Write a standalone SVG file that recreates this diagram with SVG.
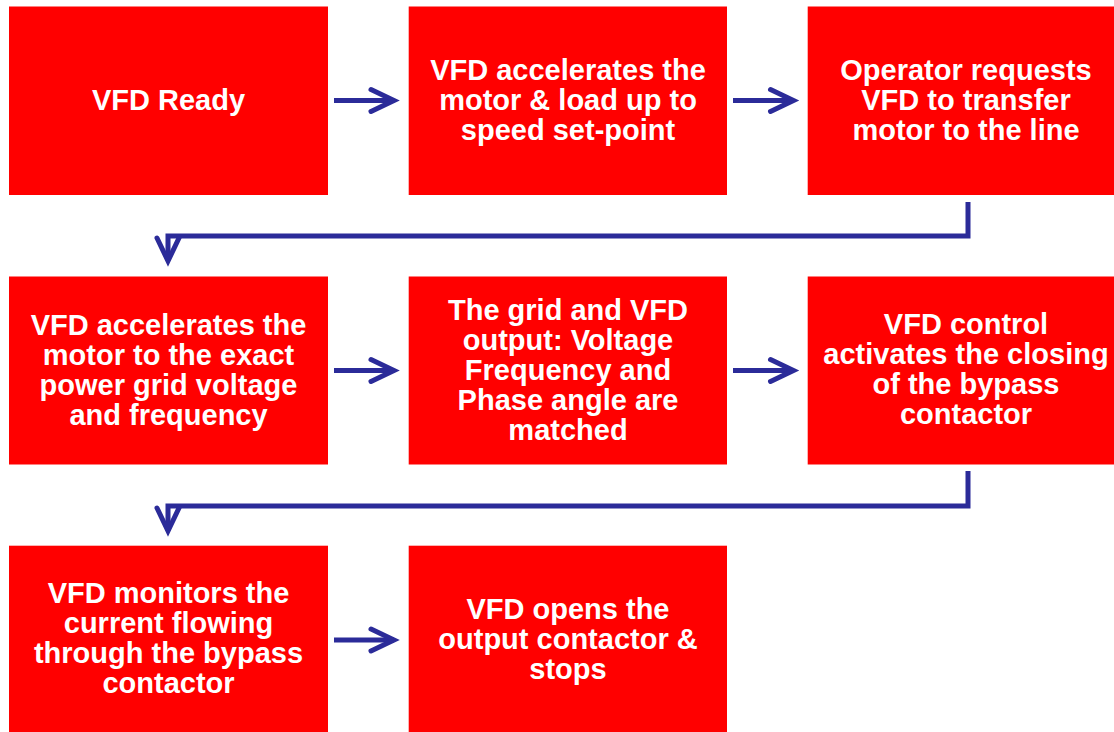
<svg xmlns="http://www.w3.org/2000/svg" width="1114" height="732" viewBox="0 0 1114 732">
<defs>
<style>
.box{fill:#FF0000;}
.t{fill:#FFFFFF;font-family:"Liberation Sans",Arial,sans-serif;font-weight:bold;font-size:29px;text-anchor:middle;}
.c{fill:none;stroke:#2B2B99;stroke-width:5;stroke-linejoin:miter;}
</style>
<marker id="ah" markerUnits="userSpaceOnUse" markerWidth="40" markerHeight="40" viewBox="-30 -20 40 40" refX="0" refY="0" orient="auto" overflow="visible">
<path d="M-23,-11 L0,0 L-23,11" fill="none" stroke="#2B2B99" stroke-width="5" stroke-linecap="round" stroke-linejoin="miter"/>
</marker>
</defs>
<rect width="1114" height="732" fill="#FFFFFF"/>
<g id="n1"><rect class="box" x="9" y="6.5" width="319" height="188.5"/><text class="t" x="168.5" y="110">VFD Ready</text></g>
<g id="n2"><rect class="box" x="408.7" y="6.5" width="318.3" height="188.5"/><text class="t"><tspan x="568" y="80">VFD accelerates the</tspan><tspan x="568" y="110">motor &amp; load up to</tspan><tspan x="568" y="140">speed set-point</tspan></text></g>
<g id="n3"><rect class="box" x="807.7" y="6.5" width="319" height="188.5"/><text class="t"><tspan x="966" y="80">Operator requests</tspan><tspan x="966" y="110">VFD to transfer</tspan><tspan x="966" y="140">motor to the line</tspan></text></g>
<g id="n4"><rect class="box" x="9" y="276.5" width="319" height="188"/><text class="t"><tspan x="168.5" y="335">VFD accelerates the</tspan><tspan x="168.5" y="365">motor to the exact</tspan><tspan x="168.5" y="395">power grid voltage</tspan><tspan x="168.5" y="425">and frequency</tspan></text></g>
<g id="n5"><rect class="box" x="408.7" y="276.5" width="318.3" height="188"/><text class="t"><tspan x="568" y="320">The grid and VFD</tspan><tspan x="568" y="350">output: Voltage</tspan><tspan x="568" y="380">Frequency and</tspan><tspan x="568" y="410">Phase angle are</tspan><tspan x="568" y="440">matched</tspan></text></g>
<g id="n6"><rect class="box" x="807.7" y="276.5" width="319" height="188"/><text class="t"><tspan x="966" y="334">VFD control</tspan><tspan x="966" y="364">activates the closing</tspan><tspan x="966" y="394">of the bypass</tspan><tspan x="966" y="424">contactor</tspan></text></g>
<g id="n7"><rect class="box" x="9" y="545.7" width="319" height="188"/><text class="t"><tspan x="168.5" y="603">VFD monitors the</tspan><tspan x="168.5" y="633">current flowing</tspan><tspan x="168.5" y="663">through the bypass</tspan><tspan x="168.5" y="693">contactor</tspan></text></g>
<g id="n8"><rect class="box" x="408.7" y="545.7" width="318.3" height="188"/><text class="t"><tspan x="568" y="619">VFD opens the</tspan><tspan x="568" y="649">output contactor &amp;</tspan><tspan x="568" y="679">stops</tspan></text></g>
<g id="connectors">
<path class="c" d="M334,100.5 H394" marker-end="url(#ah)"/>
<path class="c" d="M733,100.5 H793.5" marker-end="url(#ah)"/>
<path class="c" d="M968,202 V236 H168 V261" marker-end="url(#ah)"/>
<path class="c" d="M334,370.5 H394" marker-end="url(#ah)"/>
<path class="c" d="M733,370.5 H793.5" marker-end="url(#ah)"/>
<path class="c" d="M968,471 V506 H168 V531" marker-end="url(#ah)"/>
<path class="c" d="M334,640 H394" marker-end="url(#ah)"/>
</g>
</svg>
